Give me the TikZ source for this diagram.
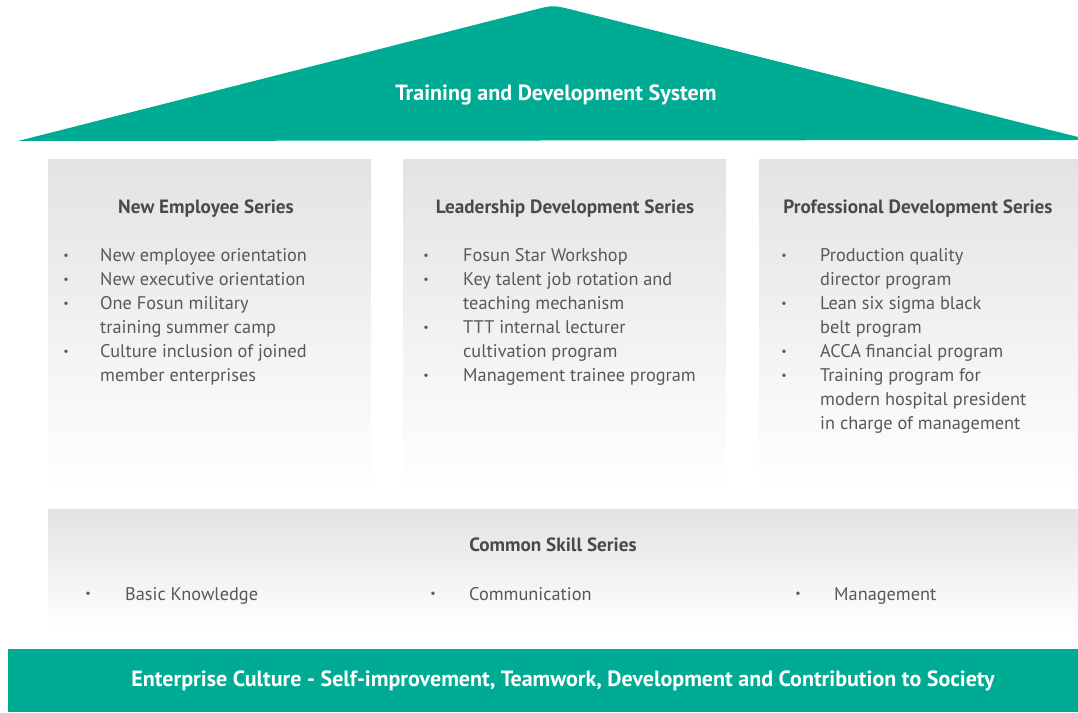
\documentclass[tikz,border=0pt]{standalone}
\usepackage{fontspec}
\setmainfont{PT Sans}
\definecolor{teal1}{HTML}{00AB94}
\definecolor{txt}{HTML}{585858}
\definecolor{hd}{HTML}{4A4A4A}
\definecolor{boxtop}{HTML}{E3E3E3}
\begin{document}
\begin{tikzpicture}[x=1pt,y=1pt,
  colbox/.style={top color=boxtop,bottom color=white,draw=none},
  item/.style={anchor=base west,inner sep=0pt,text=txt,font=\fontsize{18.3}{20}\selectfont},
  bul/.style={anchor=base,inner sep=0pt,text=txt,font=\fontsize{12}{12}\selectfont},
  head/.style={anchor=base,inner sep=0pt,text=hd,font=\fontsize{19.2}{20}\selectfont\bfseries},
  white/.style={anchor=base,inner sep=0pt,text=white,font=\fontsize{22}{22}\selectfont\bfseries}]
\useasboundingbox (0,0) rectangle (1078,712);
% roof
\fill[teal1] (18,571) -- (533,701.9) .. controls (553,707) .. (573,702) -- (1078,575) -- (1078,572) -- cycle;
\node[white] (roof) at (556,611) {Training and Development System};
% columns
\shade[colbox] (48,222) rectangle (371,552);
\shade[colbox] (403,222) rectangle (726,552);
\shade[colbox] (759,222) rectangle (1082,552);
\node[head] (h1) at (206,498) {New Employee Series};
\node[head] (h2) at (565,498) {Leadership Development Series};
\node[head] (h3) at (918,498) {Professional Development Series};
% column 1
\foreach \i/\t in {0/New employee orientation,1/New executive orientation,2/One Fosun military,3/training summer camp,4/Culture inclusion of joined,5/member enterprises}
  \node[item] (a\i) at (100,450-24*\i) {\t};
\foreach \i in {0,1,2,4}
  \node[bul] (ab\i) at (66,452-24*\i) {•};
% column 2
\foreach \i/\t in {0/Fosun Star Workshop,1/Key talent job rotation and,2/teaching mechanism,3/TTT internal lecturer,4/cultivation program,5/Management trainee program}
  \node[item] (b\i) at (463,450-24*\i) {\t};
\foreach \i in {0,1,3,5}
  \node[bul] (bb\i) at (426,452-24*\i) {•};
% column 3
\foreach \i/\t in {0/Production quality,1/director program,2/Lean six sigma black,3/belt program,4/ACCA financial program,5/Training program for,6/modern hospital president,7/in charge of management}
  \node[item] (c\i) at (820,450-24*\i) {\t};
\foreach \i in {0,2,4,5}
  \node[bul] (cb\i) at (784,452-24*\i) {•};
% common skills
\shade[colbox] (48,82) rectangle (1078,202);
\node[head] (h4) at (553,160) {Common Skill Series};
\node[item] (d1) at (125,112) {Basic Knowledge};
\node[item] (d2) at (469,112) {Communication};
\node[item] (d3) at (834,112) {Management};
\node[bul] (db1) at (88,114) {•};
\node[bul] (db2) at (433,114) {•};
\node[bul] (db3) at (798,114) {•};
% band
\fill[teal1] (8,0) rectangle (1078,63);
\node[white] (band) at (563,26) {Enterprise Culture - Self-improvement, Teamwork, Development and Contribution to Society};
\end{tikzpicture}
\end{document}
